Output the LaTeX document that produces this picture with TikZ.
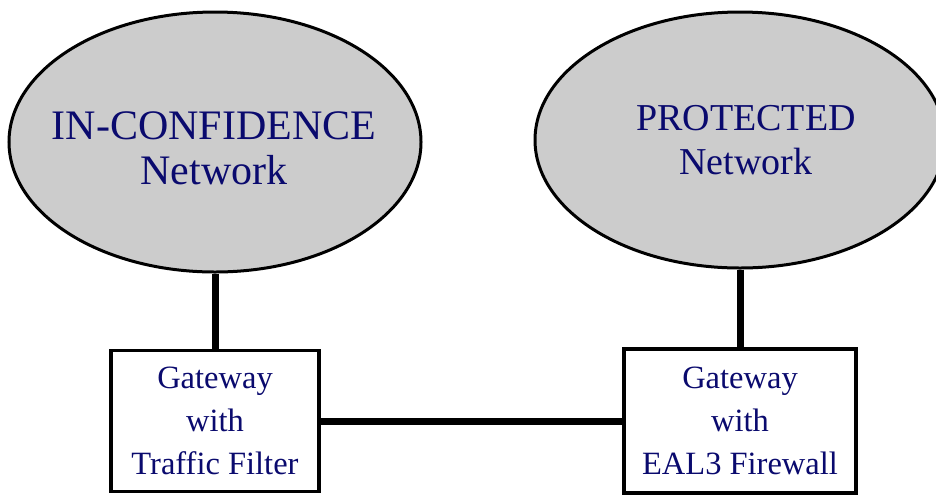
\documentclass[tikz,border=0pt]{standalone}
\usepackage{fontspec}
\setmainfont{Liberation Serif}
\usetikzlibrary{shapes.geometric}
\definecolor{netgray}{RGB}{204,204,204}
\definecolor{netblue}{RGB}{10,10,110}
\tikzset{
  netcloud/.style={ellipse,draw=black,line width=1.5pt,fill=netgray,inner sep=0pt},
  nettext/.style={text=netblue,align=center,inner sep=0pt},
  gwbox/.style={rectangle,draw=black,line width=1.75pt,fill=white,text=netblue,align=center,inner sep=0pt,
    font=\fontsize{16.25}{21.5}\selectfont},
  link/.style={line width=3.5pt}
}
\begin{document}
\begin{tikzpicture}[x=0.5pt,y=-0.5pt]
		\useasboundingbox (0,0) rectangle (936,494);
		\node [netcloud,minimum width=206pt,minimum height=130pt] (inconf) at (215,142) {}; % left
		\node [netcloud,minimum width=205pt,minimum height=128pt] (protected) at (740,140) {}; % right
		\node [nettext,font=\fontsize{21}{22.5}\selectfont] (inconftext) at (214,148) {IN-CONFIDENCE\\Network};
		\node [nettext,font=\fontsize{19}{22}\selectfont] (protectedtext) at (746,140) {PROTECTED\\Network};
		\node [gwbox,minimum width=104pt,minimum height=70.5pt] (gwfilter) at (215,421) {Gateway\\with\\Traffic Filter};
		\node [gwbox,minimum width=116pt,minimum height=72pt] (gwfirewall) at (740,421) {Gateway\\with\\EAL3 Firewall};

		\draw [link] (inconf) to (gwfilter);
		\draw [link] (protected) to (gwfirewall);
		\draw [link] (gwfilter) to (gwfirewall);

		\end{tikzpicture}
\end{document}
